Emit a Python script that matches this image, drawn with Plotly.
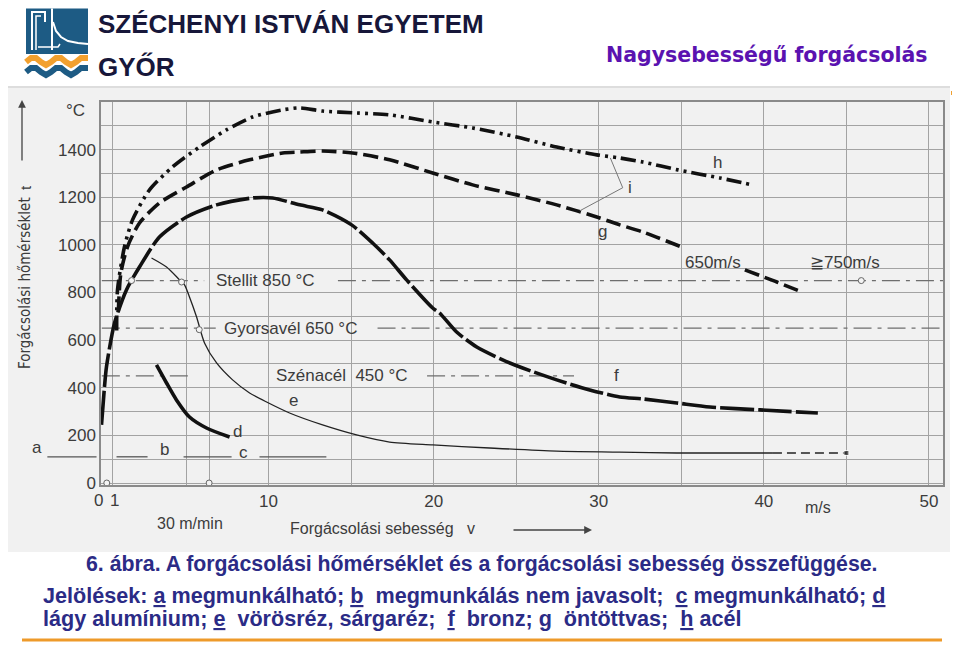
import plotly.graph_objects as go

# ---------------- data ----------------
# h: acél (dash-dot-dot)
h_v = [0.80, 0.85, 1.27, 1.76, 2.79, 4.18, 5.82, 7.45, 9.03, 10.85, 11.88, 13.27, 15.33, 17.33,
       19.94, 22.36, 25.03, 27.45, 29.88, 31.27, 32.67, 34.79, 37.33, 39.27]
h_T = [640, 811, 991, 1105, 1231, 1327, 1411, 1483, 1537, 1567, 1575, 1562, 1554, 1546,
       1516, 1491, 1453, 1411, 1378, 1365, 1348, 1315, 1281, 1252]
# g: öntöttvas (dashed), two parts (650 m/s and >=750 m/s)
g_v = [0.90, 1.05, 1.45, 2.18, 3.39, 5.03, 6.85, 8.85, 10.85, 11.88, 13.27, 15.09, 17.33,
       19.94, 22.36, 25.03, 27.45, 29.88, 31.27, 32.67, 35.03]
g_T = [720, 880, 991, 1092, 1176, 1243, 1315, 1357, 1386, 1390, 1394, 1386, 1357,
       1302, 1252, 1210, 1168, 1117, 1084, 1054, 991]
g2_v = [38.85, 40.79, 42.30]
g2_T = [895, 844, 802]
# f: bronz
f_v = [-0.12, 0.06, 0.18, 0.67, 1.39, 2.18, 3.39, 5.03, 6.85, 9.03, 10.24, 11.88, 13.27, 15.03,
       16.30, 17.33, 18.36, 19.94, 20.36, 21.39, 22.61, 24.18, 25.39, 27.45, 29.45, 31.27,
       32.67, 34.73, 36.73, 39.76, 43.27]
f_T = [244, 403, 487, 672, 811, 907, 1033, 1117, 1168, 1197, 1197, 1168, 1147, 1084,
       1008, 937, 853, 735, 714, 634, 571, 517, 483, 433, 391, 361,
       353, 336, 319, 307, 294]
# d: lágy alumínium
d_v = [3.21, 3.82, 4.42, 5.21, 6.24, 7.64]
d_T = [496, 420, 349, 277, 231, 193]
# e: vörösréz, sárgaréz (thin), with dashed extension
e_v = [2.91, 3.82, 4.61, 4.91, 5.21, 5.64, 6.12, 6.85, 7.82, 8.85, 9.88, 11.27, 13.27, 15.33,
       17.33, 19.94, 23.39, 27.45, 31.27, 34.73, 40.55]
e_T = [945, 907, 853, 832, 781, 697, 588, 504, 433, 378, 340, 294, 244, 202,
       172, 160, 147, 134, 130, 126, 126]
e_ext_v = [40.55, 45.0]
e_ext_T = [126, 126]

# tool temperature limits (dash-dot reference lines)
ref_T = [850, 650, 450]
ref_labels = ["Stellit 850 °C", "Gyorsavél 650 °C", "Szénacél  450 °C"]
ref_left = [(-0.1, 6.1), (-0.1, 6.8), (-0.1, 5.4)]
ref_right = [(14.2, 50.85), (16.6, 50.85), (19.6, 28.5)]
ref_label_v = [6.7, 7.2, 10.3]

# a / b / c zone boundary segments
abc_T = 110
abc_segments = [(0.79, 2.67), (4.85, 7.76), (9.45, 13.5)]
a_segment = (-3.4, -0.42)

# circle marks
circ_v = [1.7, 4.73, 5.8, 45.9, 0.2, 6.4]
circ_T = [850, 844, 644, 850, 0, 0]

# bracket "i"
i_v = [30.7, 31.45, 28.85]
i_T = [1365, 1240, 1143]

# axes
x_grid = [-0.1, 0.55, 5, 6.4, 10, 15, 20, 25, 30, 35, 40, 45, 50]
x_text = ["", "", "", "", "10", "", "20", "", "30", "", "40", "", "50"]
x_low_labels = ["0", "1"]
y_grid = list(range(0, 1700, 100))
y_text = [str(t) if (t % 200 == 0 and t <= 1400) else "" for t in y_grid]

X_RANGE = [-0.15, 50.85]
Y_RANGE = [-8.4, 1600]

# ---------------- layout geometry (reference pixel coords; page body adds 8px) ----------------
W, H = 960, 647
OFF = 8
L_PX, R_PX, T_PX, B_PX = 101, 943, 102, 485


def xp(px):
    return (px - L_PX) / (R_PX - L_PX)


def yp(py):
    return (B_PX - py) / (B_PX - T_PX)


def dxp(v):
    return (v - X_RANGE[0]) / (X_RANGE[1] - X_RANGE[0])


def dyp(t):
    return (t - Y_RANGE[0]) / (Y_RANGE[1] - Y_RANGE[0])


INK = "#111111"
GRID = "#a3a3a3"
TXT = "#3c3c3c"
FONT = "Liberation Sans, Arial, sans-serif"

fig = go.Figure()

# reference dash-dot lines
for lv, (a0, a1), (b0, b1) in zip(ref_T, ref_left, ref_right):
    fig.add_trace(go.Scatter(x=[a0, a1, None, b0, b1], y=[lv, lv, None, lv, lv], mode="lines",
                             line=dict(color="#6e6e6e", width=1.3, dash="18px,6px,4px,6px"),
                             hoverinfo="skip", showlegend=False))

# a/b/c segments
sx, sy = [], []
for s0, s1 in abc_segments:
    sx += [s0, s1, None]
    sy += [abc_T, abc_T, None]
fig.add_trace(go.Scatter(x=sx, y=sy, mode="lines", line=dict(color="#555555", width=1.3),
                         hoverinfo="skip", showlegend=False))

SM = 0.7
# curves
fig.add_trace(go.Scatter(x=h_v, y=h_T, mode="lines",
                         line=dict(color=INK, width=3.6, dash="15px,5px,3px,5px,3px,5px",
                                   shape="spline", smoothing=SM),
                         showlegend=False))
fig.add_trace(go.Scatter(x=g_v, y=g_T, mode="lines",
                         line=dict(color=INK, width=3.6, dash="15px,6px", shape="spline", smoothing=SM),
                         showlegend=False))
fig.add_trace(go.Scatter(x=g2_v, y=g2_T, mode="lines",
                         line=dict(color=INK, width=3.6, dash="15px,6px", shape="spline", smoothing=SM),
                         showlegend=False))
fig.add_trace(go.Scatter(x=f_v, y=f_T, mode="lines",
                         line=dict(color=INK, width=3.6, dash="34px,4px", shape="spline", smoothing=SM),
                         showlegend=False))
fig.add_trace(go.Scatter(x=d_v, y=d_T, mode="lines",
                         line=dict(color=INK, width=3.6, shape="spline", smoothing=SM),
                         showlegend=False))
fig.add_trace(go.Scatter(x=e_v, y=e_T, mode="lines",
                         line=dict(color="#222222", width=1.3, shape="spline", smoothing=SM),
                         showlegend=False))
fig.add_trace(go.Scatter(x=e_ext_v, y=e_ext_T, mode="lines+markers",
                         line=dict(color="#222222", width=1.6, dash="9px,5px"),
                         marker=dict(symbol=["line-ns", "square"], size=[0, 5], color="#222222"),
                         showlegend=False))
fig.add_trace(go.Scatter(x=i_v, y=i_T, mode="lines", line=dict(color="#777777", width=1),
                         hoverinfo="skip", showlegend=False))
fig.add_trace(go.Scatter(x=circ_v, y=circ_T, mode="markers", cliponaxis=False,
                         marker=dict(symbol="circle", size=6, color="#f4f4f4",
                                     line=dict(color="#666666", width=1)),
                         hoverinfo="skip", showlegend=False))

shapes = []
# scanned page background
shapes.append(dict(type="rect", xref="paper", yref="paper", x0=xp(0), x1=xp(950), y0=yp(552), y1=yp(86),
                   fillcolor="#f1f1f1", line=dict(width=0), layer="below"))
shapes.append(dict(type="line", xref="paper", yref="paper", x0=xp(0), x1=xp(950), y0=yp(87), y1=yp(87),
                   line=dict(color="#dddddd", width=2), layer="below"))
shapes.append(dict(type="rect", xref="paper", yref="paper", x0=xp(951), x1=xp(958), y0=yp(95), y1=yp(91),
                   fillcolor="#f0a030", line=dict(width=0)))
# a-segment (outside the axis)
shapes.append(dict(type="line", xref="paper", yref="paper", x0=dxp(a_segment[0]), x1=dxp(a_segment[1]),
                   y0=dyp(abc_T), y1=dyp(abc_T), line=dict(color="#555555", width=1.3)))
# bottom orange rule
shapes.append(dict(type="line", xref="paper", yref="paper", x0=xp(22), x1=xp(942), y0=yp(640), y1=yp(640),
                   line=dict(color="#ee9a2a", width=3)))


def pth(points, close=False):
    s = "M " + " L ".join(f"{xp(a):.5f},{yp(b):.5f}" for a, b in points)
    return s + (" Z" if close else "")


# logo
shapes.append(dict(type="rect", xref="paper", yref="paper", x0=xp(26), x1=xp(88), y0=yp(54), y1=yp(8.5),
                   fillcolor="#1d5b84", line=dict(width=0)))
shapes.append(dict(type="path", xref="paper", yref="paper",
                   path=pth([(32, 50), (32, 12), (45, 12), (45, 22)]), line=dict(color="white", width=2)))
shapes.append(dict(type="path", xref="paper", yref="paper",
                   path=pth([(36, 50), (36, 16), (41, 16)]), line=dict(color="white", width=1.5)))
shapes.append(dict(type="path", xref="paper", yref="paper",
                   path=pth([(52, 8.5), (52, 50)]), line=dict(color="white", width=2)))
shapes.append(dict(type="path", xref="paper", yref="paper",
                   path=pth([(53, 22), (56, 31), (61, 37), (68, 41), (78, 43), (88, 44)]),
                   line=dict(color="white", width=2)))
shapes.append(dict(type="path", xref="paper", yref="paper",
                   path=pth([(38, 47), (58, 47), (60, 44)]), line=dict(color="white", width=1.5)))
wave_o = [(26, 62), (31, 58), (36, 58), (41, 62), (46, 65), (51, 62), (56, 58), (61, 58), (66, 62),
          (71, 65), (76, 62), (81, 58), (88, 58)]
shapes.append(dict(type="path", xref="paper", yref="paper", path=pth(wave_o),
                   line=dict(color="#f2a02e", width=6)))
wave_b = [(26, 72), (31, 68), (36, 68), (41, 72), (46, 75), (51, 72), (56, 68), (61, 68), (66, 72),
          (71, 75), (76, 72), (81, 68), (88, 68)]
shapes.append(dict(type="path", xref="paper", yref="paper", path=pth(wave_b),
                   line=dict(color="#1d5b84", width=6)))

ann = []


def T_(px, py, text, size=17, color=TXT, xanchor="center", family=FONT, angle=0, **kw):
    ann.append(dict(xref="paper", yref="paper", x=xp(px), y=yp(py), text=text, showarrow=False,
                    xanchor=xanchor, yanchor="middle", textangle=angle,
                    font=dict(family=family, size=size, color=color), **kw))


# header
T_(96, 24, "<b>SZÉCHENYI ISTVÁN EGYETEM</b>", size=26, color="#17173a", xanchor="left")
T_(96, 67, "<b>GYŐR</b>", size=26, color="#17173a", xanchor="left")
T_(930, 55, "<b>Nagysebességű forgácsolás</b>", size=20.5, color="#5a12b0", xanchor="right",
   family="DejaVu Sans, Verdana, sans-serif")

# chart texts
for lbl, lv, lx in zip(ref_labels, ref_T, ref_label_v):
    ann.append(dict(x=lx, y=lv, xref="x", yref="y", text=lbl, showarrow=False, xanchor="left",
                    font=dict(family=FONT, size=17, color=TXT)))
for txt, vx, ty in [("h", 37.2, 1345), ("g", 30.2, 1055), ("i", 31.9, 1240), ("f", 31.1, 450),
                    ("e", 11.5, 345), ("d", 8.1, 215), ("c", 8.5, 130), ("b", 3.7, 140)]:
    ann.append(dict(x=vx, y=ty, xref="x", yref="y", text=txt, showarrow=False,
                    font=dict(family=FONT, size=17, color=TXT)))
T_(98, 500, x_low_labels[0], size=17)
T_(114, 500, x_low_labels[1], size=17)
T_(37, 447, "a")
T_(713, 262, "650m/s", size=17)
T_(845, 262, "≧750m/s", size=17)
T_(818, 507, "m/s", size=16)
T_(75, 110, "°C", size=17)
T_(190, 523, "30 m/min", size=16)
T_(288, 528, "Forgácsolási sebesség   v", size=16, xanchor="left")
# x-direction arrow
ann.append(dict(xref="paper", yref="paper", x=xp(592), y=yp(530), ax=-80, ay=0, text="",
                showarrow=True, arrowhead=2, arrowsize=1.2, arrowwidth=1.3, arrowcolor="#444444"))
# y title + arrow
T_(25, 283, "Forgácsolási hőmérséklet", size=15, angle=-90,
   family="Liberation Sans Narrow, DejaVu Sans Condensed, sans-serif")
T_(25, 188, "t", size=15, angle=-90)
ann.append(dict(xref="paper", yref="paper", x=xp(22), y=yp(100), ax=0, ay=62, text="",
                showarrow=True, arrowhead=2, arrowsize=1.2, arrowwidth=1.3, arrowcolor="#444444"))

# caption
CAP = "#2b2b86"
T_(482, 564, "<b>6. ábra. A forgácsolási hőmérséklet és a forgácsolási sebesség összefüggése.</b>",
   size=21.3, color=CAP)
T_(41, 595, "<b>Jelölések: <u>a</u> megmunkálható; <u>b</u>  megmunkálás nem javasolt;  <u>c</u> "
            "megmunkálható; <u>d</u></b>", size=21.6, color=CAP, xanchor="left")
T_(41, 618, "<b>lágy alumínium; <u>e</u>  vörösréz, sárgaréz;  <u>f</u>  bronz; <u>g</u>  öntöttvas;  "
            "<u>h</u> acél</b>", size=21.6, color=CAP, xanchor="left")

fig.update_layout(
    width=W, height=H, autosize=False,
    margin=dict(l=L_PX - OFF, r=W - (R_PX - OFF), t=T_PX - OFF, b=H - (B_PX - OFF), pad=0),
    paper_bgcolor="white", plot_bgcolor="#f4f4f4",
    shapes=shapes, annotations=ann, showlegend=False,
    xaxis=dict(range=X_RANGE, tickmode="array", tickvals=x_grid, ticktext=x_text, tickangle=0,
               showgrid=True, gridcolor=GRID, gridwidth=1, zeroline=False,
               showline=True, mirror=True, linecolor="#8a8a8a", linewidth=1.5,
               ticks="", tickfont=dict(family=FONT, size=17, color=TXT)),
    yaxis=dict(range=Y_RANGE, tickmode="array", tickvals=y_grid, ticktext=y_text,
               showgrid=True, gridcolor=GRID, gridwidth=1, zeroline=False,
               showline=True, mirror=True, linecolor="#8a8a8a", linewidth=1.5,
               ticks="", tickfont=dict(family=FONT, size=17, color=TXT)),
)

fig.write_html("out.html")
